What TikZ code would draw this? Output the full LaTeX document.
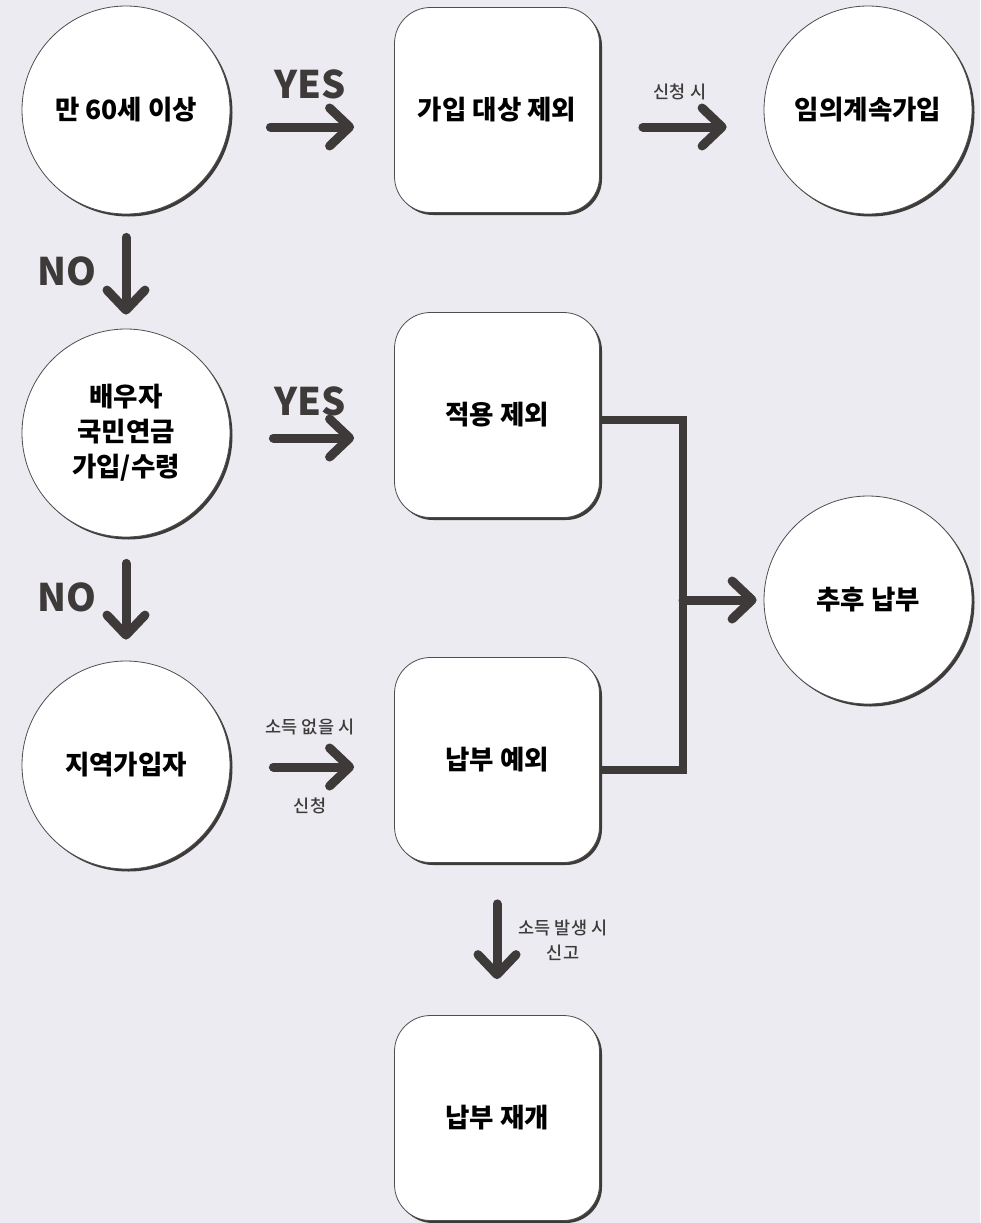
\documentclass[tikz,border=0pt]{standalone}
\usepackage{fontspec}
\setmainfont{Noto Sans CJK KR}
\newfontfamily\medfont{Noto Sans CJK KR Medium}
\usetikzlibrary{arrows.meta,shadows}

\definecolor{bgcol}{HTML}{EBEBF1}
\definecolor{ink}{HTML}{3D3A39}

\tikzset{
	base/.style = {draw = ink!90, line width = 0.8pt, fill = white, align = center, inner sep = 0pt,
		font = \bfseries\fontsize{26.5}{35}\selectfont,
		drop shadow = {shadow xshift = 2.5pt, shadow yshift = -2.5pt, fill = ink, opacity = 1}},
	decision/.style = {base, circle, minimum size = 208pt},
	stepbox/.style = {base, rounded corners = 36pt, minimum width = 205pt, minimum height = 205pt},
	flow/.style = {ink, line width = 9pt, line cap = round, -{Straight Barb[round, length = 20pt, width = 38pt]}},
	bracket/.style = {ink, line width = 8pt},
	answer/.style = {ink, font = \bfseries\fontsize{38}{40}\selectfont},
	note/.style = {ink, align = center, font = \medfont\fontsize{17.5}{25}\selectfont},
}

\begin{document}
\begin{tikzpicture}[x = 1pt, y = -1pt]
	\fill [bgcol] (0,0) rectangle (980,1223);
	\useasboundingbox (0,0) rectangle (980,1223);

	% nodes
	\node [decision] (age) at (126,110) {만 60세 이상};
	\node [stepbox] (exclude) at (497,110) {가입 대상 제외};
	\node [decision] (voluntary) at (868,110) {임의계속가입};
	\node [decision] (spouse) at (126,433) {배우자\\국민연금\\가입/수령};
	\node [stepbox] (notapply) at (497,415) {적용 제외};
	\node [decision] (later) at (868,600) {추후 납부};
	\node [decision] (regional) at (126,765) {지역가입자};
	\node [stepbox] (exempt) at (497,760) {납부 예외};
	\node [stepbox] (resume) at (497,1118) {납부 재개};

	% labels
	\node [answer] (yes1) at (310,84) {YES};
	\node [answer] (yes2) at (310,401) {YES};
	\node [answer] (no1) at (67,271) {NO};
	\node [answer] (no2) at (67,597) {NO};
	\node [note] (apply1) at (680,92) {신청 시};
	\node [note] (noincome) at (310,727) {소득 없을 시};
	\node [note] (apply2) at (310,806) {신청};
	\node [note] (income) at (563,940) {소득 발생 시\\신고};

	% arrows
	\draw [flow, shorten <= 40pt, shorten >= 40pt] ([yshift = -17pt]age.east) -- ([yshift = -17pt]age.east -| exclude.west);
	\draw [flow, shorten <= 43pt, shorten >= 37pt] ([yshift = -17pt]exclude.east) -- ([yshift = -17pt]exclude.east -| voluntary.west);
	\draw [flow, shorten <= 23pt, shorten >= 14pt] (age.south) -- (spouse.north);
	\draw [flow, shorten <= 43pt, shorten >= 40pt] ([yshift = -5pt]spouse.east) -- ([yshift = -5pt]spouse.east -| notapply.west);
	\draw [flow, shorten <= 26pt, shorten >= 21pt] (spouse.south) -- (regional.north);
	\draw [flow, shorten <= 43pt, shorten >= 40pt] ([yshift = -2pt]regional.east) -- ([yshift = -2pt]regional.east -| exempt.west);
	\draw [flow, shorten <= 41pt, shorten >= 36pt] (exempt.south) -- (resume.north);

	\coordinate (merge) at (683,600);
	\draw [bracket] ([yshift = -5pt]notapply.east) -| (merge) |- ([yshift = -10pt]exempt.east);
	\draw [flow, shorten >= 7pt] (merge) -- (later.west);
\end{tikzpicture}
\end{document}
